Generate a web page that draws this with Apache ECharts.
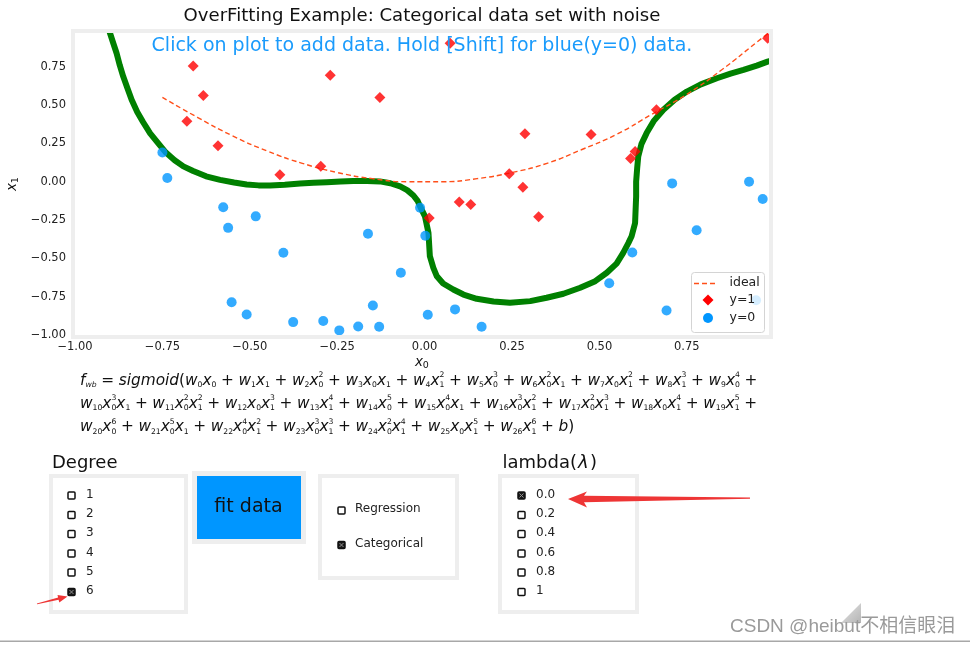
<!DOCTYPE html>
<html><head><meta charset="utf-8">
<script src="https://cdn.jsdelivr.net/npm/echarts@6/dist/echarts.min.js"></script>
<style>html,body{margin:0;padding:0;background:#fff}#c{width:970px;height:645px}</style>
</head><body><div id="c"></div>
<script>
// ---------------- data ----------------
const redX  = [-0.662,-0.633,-0.680,-0.591,-0.414,-0.297,-0.270,-0.128, 0.073, 0.663, 0.287, 0.476, 0.602, 0.589, 0.242, 0.281, 0.099, 0.132, 0.013, 0.326, 0.981];
const redY  = [ 0.755, 0.562, 0.395, 0.234, 0.046, 0.100, 0.695, 0.549, 0.903, 0.469, 0.312, 0.308, 0.197, 0.152, 0.052,-0.037,-0.132,-0.148,-0.237,-0.228, 0.935];
const blueX = [-0.750,-0.736,-0.576,-0.483,-0.562,-0.404,-0.162,-0.068,-0.013,-0.552,-0.509,-0.376,-0.290,-0.244,-0.190,-0.148,-0.130, 0.002, 0.708, 0.928, 0.967, 0.778, 0.594, 0.528, 0.009, 0.087, 0.163, 0.692, 0.948];
const blueY = [ 0.191, 0.024,-0.167,-0.226,-0.301,-0.464,-0.339,-0.594,-0.170,-0.786,-0.866,-0.916,-0.909,-0.970,-0.944,-0.807,-0.946,-0.352,-0.011, 0.000,-0.113,-0.317,-0.462,-0.662,-0.868,-0.833,-0.946,-0.840,-0.773];
const idealX = [-0.75,-0.65,-0.55,-0.45,-0.35,-0.25,-0.15,-0.05, 0.05, 0.15, 0.25, 0.35, 0.45, 0.55, 0.65, 0.75, 0.85, 0.95, 1.00];
const idealY = [ 0.55, 0.42, 0.30, 0.20, 0.12, 0.06, 0.02, 0.00, 0.00, 0.02, 0.06, 0.12, 0.21, 0.31, 0.44, 0.57, 0.73, 0.91, 1.00];
const boundX = [-0.905,-0.900,-0.890,-0.881,-0.872,-0.862,-0.850,-0.838,-0.822,-0.805,-0.785,-0.760,-0.740,-0.715,-0.690,-0.662,-0.625,-0.585,-0.545,-0.509,-0.475,-0.442,-0.400,-0.356,-0.318,-0.280,-0.240,-0.204,-0.165,-0.128,-0.098,-0.070,-0.050,-0.032,-0.020,-0.013, 0.001, 0.011, 0.015, 0.025, 0.035, 0.053, 0.082, 0.111, 0.149, 0.197, 0.244, 0.302, 0.349, 0.397, 0.445, 0.488, 0.521, 0.549, 0.568, 0.583, 0.592, 0.602, 0.605, 0.605, 0.608, 0.611, 0.620, 0.635, 0.655, 0.683, 0.715, 0.750, 0.790, 0.836, 0.875, 0.912, 0.950, 0.981, 1.000];
const boundY = [ 1.000, 0.970, 0.900, 0.838, 0.760, 0.686, 0.610, 0.534, 0.455, 0.388, 0.315, 0.245, 0.190, 0.140, 0.100, 0.070, 0.035, 0.012,-0.005,-0.018,-0.024,-0.025,-0.020,-0.012,-0.007,-0.004, 0.001, 0.004, 0.004, 0.002,-0.010,-0.031,-0.055,-0.090,-0.125,-0.161,-0.226,-0.334,-0.486,-0.562,-0.617,-0.664,-0.703,-0.736,-0.764,-0.781,-0.790,-0.779,-0.757,-0.731,-0.692,-0.649,-0.594,-0.534,-0.464,-0.399,-0.356,-0.269,-0.096, 0.002, 0.090, 0.165, 0.245, 0.317, 0.395, 0.469, 0.535, 0.588, 0.635, 0.675, 0.705, 0.729, 0.757, 0.783, 0.795];
const xTickLabels = ['−1.00','−0.75','−0.50','−0.25','0.00','0.25','0.50','0.75'];
const yTickLabels = ['−1.00','−0.75','−0.50','−0.25','0.00','0.25','0.50','0.75'];
const legendNames = ['ideal','y=1','y=0'];
const degreeOptions = ['1','2','3','4','5','6'];
const degreeChecked = 5;
const modeOptions = ['Regression','Categorical'];
const modeChecked = 1;
const lambdaOptions = ['0.0','0.2','0.4','0.6','0.8','1'];
const lambdaChecked = 0;

const RED = '#ff0000', BLUE = '#0096ff', ORANGE = '#ff4f1a', GREEN = '#008000';
const FF = '"DejaVu Sans", Verdana, sans-serif';
const mctx = document.createElement('canvas').getContext('2d');
function tw(s, size, italic){ mctx.font = (italic?'italic ':'') + size + 'px "DejaVu Sans"'; return mctx.measureText(s).width; }
function txt(s, x, y, size, italic, opts){
  opts = opts || {};
  return {type:'text', z:opts.z || 100, silent:true,
    style:{text:s, x:x, y:y, fontSize:size, fontFamily:FF, fontStyle: italic?'italic':'normal',
      fontWeight: 'normal', fill: opts.fill || '#111',
      align: opts.align || 'left', textAlign: opts.align || 'left',
      verticalAlign:'middle', textVerticalAlign:'middle'}};
}
// simple math layout (sub/superscripts)
function parseMath(str){
  const atoms=[]; let i=0;
  while(i<str.length){
    const c=str[i];
    if(c==='_'||c==='^'){
      const j=str.indexOf('}',i); const g=str.slice(i+2,j);
      const a=atoms[atoms.length-1]; if(c==='_') a.sub=g; else a.sup=g;
      i=j+1; continue;
    }
    atoms.push({b:c}); i++;
  }
  return atoms;
}
const isLetter = c => /[a-z]/i.test(c);
const SCR = 0.5, SPC = 0.30;
function mathLayout(str, x, y, fs, draw){
  const els=[]; const ss=fs*SCR;
  for(const a of parseMath(str)){
    if(a.b===' '){ x += fs*SPC; continue; }
    const it=isLetter(a.b);
    if(draw) els.push(txt(a.b,x,y,fs,it));
    x += tw(a.b,fs,it);
    let w=0;
    if(a.sub){ let xx=x; for(const ch of a.sub){ const i2=isLetter(ch); if(draw) els.push(txt(ch,xx,y+fs*0.28,ss,i2)); xx+=tw(ch,ss,i2);} w=Math.max(w,xx-x); }
    if(a.sup){ let xx=x; for(const ch of a.sup){ const i2=isLetter(ch); if(draw) els.push(txt(ch,xx,y-fs*0.36,ss,i2)); xx+=tw(ch,ss,i2);} w=Math.max(w,xx-x); }
    x += w;
  }
  return {els, x};
}
const L1 = "f_{wb} = sigmoid(w_{0}x_{0} + w_{1}x_{1} + w_{2}x_{0}^{2} + w_{3}x_{0}x_{1} + w_{4}x_{1}^{2} + w_{5}x_{0}^{3} + w_{6}x_{0}^{2}x_{1} + w_{7}x_{0}x_{1}^{2} + w_{8}x_{1}^{3} + w_{9}x_{0}^{4} +";
const L2 = "w_{10}x_{0}^{3}x_{1} + w_{11}x_{0}^{2}x_{1}^{2} + w_{12}x_{0}x_{1}^{3} + w_{13}x_{1}^{4} + w_{14}x_{0}^{5} + w_{15}x_{0}^{4}x_{1} + w_{16}x_{0}^{3}x_{1}^{2} + w_{17}x_{0}^{2}x_{1}^{3} + w_{18}x_{0}x_{1}^{4} + w_{19}x_{1}^{5} +";
const L3 = "w_{20}x_{0}^{6} + w_{21}x_{0}^{5}x_{1} + w_{22}x_{0}^{4}x_{1}^{2} + w_{23}x_{0}^{3}x_{1}^{3} + w_{24}x_{0}^{2}x_{1}^{4} + w_{25}x_{0}x_{1}^{5} + w_{26}x_{1}^{6} + b)";
const w13 = mathLayout(L1, 0, 0, 13, false).x;
const FS = 13 * 678 / w13;

const G = [];
// plot frame
G.push({type:'rect', z:50, silent:true, shape:{x:73,y:31,width:698,height:306}, style:{fill:'none', stroke:'#eeeeee', lineWidth:4}});
G.push(txt('OverFitting Example: Categorical data set with noise', 422, 16, 18.1, false, {align:'center', fill:'#111'}));
G.push(txt('Click on plot to add data. Hold [Shift] for blue(y=0) data.', 422, 46, 19, false, {align:'center', fill:'#1a9bfc'}));
// axis names
G.push(txt('x', 415, 362, 13.5, true));
G.push(txt('0', 422.8, 366, 9.5, false));
G.push({type:'group', x:12, y:191, rotation:Math.PI/2, children:[
  {type:'text', z:100, style:{text:'x', x:0, y:0, fontSize:13.5, fontStyle:'italic', fontFamily:FF, fill:'#111', align:'left', verticalAlign:'middle'}},
  {type:'text', z:100, style:{text:'1', x:7.8, y:4, fontSize:9.5, fontFamily:FF, fill:'#111', align:'left', verticalAlign:'middle'}}
]});
// legend (drawn box over the plot)
(function(){
  const lz = 60;
  G.push({type:'rect', z:lz, silent:true, shape:{x:691.5,y:272.5,width:73,height:60,r:3}, style:{fill:'rgba(255,255,255,0.8)', stroke:'#d4d4d4', lineWidth:1}});
  G.push({type:'line', z:lz+1, silent:true, shape:{x1:694,y1:283.5,x2:718,y2:283.5}, style:{stroke:ORANGE, lineWidth:1.4, lineDash:[5,3]}});
  G.push({type:'polygon', z:lz+1, silent:true, shape:{points:[[708,294.5],[713.5,300],[708,305.5],[702.5,300]]}, style:{fill:RED}});
  G.push({type:'circle', z:lz+1, silent:true, shape:{cx:708,cy:318,r:5}, style:{fill:BLUE}});
  [283,300,318].forEach((y,i)=>G.push(txt(legendNames[i], 729.5, y, 12.5, false, {fill:'#222', z:lz+1})));
})();
// formula
[[L1,381],[L2,404],[L3,427.5]].forEach(([s,y]) => { mathLayout(s, 80, y, FS, true).els.forEach(e => G.push(e)); });

// widgets
function box(x1,y1,x2,y2){ return {type:'rect', z:90, silent:true, shape:{x:x1+2,y:y1+2,width:x2-x1-4,height:y2-y1-4}, style:{fill:'#fff', stroke:'#eeeeee', lineWidth:4}}; }
function checkbox(cx,cy,checked){
  const r = {type:'rect', z:100, silent:true, shape:{x:cx-3.5,y:cy-3.5,width:7,height:7,r:1}, style:{fill: checked?'#1a1a1a':'#fff', stroke:'#111', lineWidth:1.5}};
  if(!checked) return [r];
  return [r,
    {type:'line', z:101, silent:true, shape:{x1:cx-2,y1:cy-2,x2:cx+2,y2:cy+2}, style:{stroke:'#9a9a9a', lineWidth:0.9}},
    {type:'line', z:101, silent:true, shape:{x1:cx+2,y1:cy-2,x2:cx-2,y2:cy+2}, style:{stroke:'#9a9a9a', lineWidth:0.9}}];
}
G.push(txt('Degree', 52, 463, 18, false, {fill:'#111'}));
G.push(box(49,474,188,614));
const rowY = [495.5, 515, 534, 553.5, 572.5, 592];
degreeOptions.forEach((s,i)=>{ checkbox(71.5,rowY[i],i===degreeChecked).forEach(e=>G.push(e)); G.push(txt(s, 86, rowY[i]-1, 12, false, {fill:'#222'})); });
// button
G.push({type:'rect', z:90, silent:true, shape:{x:194.5,y:473.5,width:109,height:68}, style:{fill:'#0096ff', stroke:'#eeeeee', lineWidth:5}});
G.push(txt('fit data', 248.5, 507, 19, false, {align:'center', fill:'#111'}));
// mode box
G.push(box(318,474,459,580));
const modeY = [510.5, 545];
modeOptions.forEach((s,i)=>{ checkbox(341.5,modeY[i],i===modeChecked).forEach(e=>G.push(e)); G.push(txt(s, 355, modeY[i]-1.5, 12, false, {fill:'#222'})); });
// lambda
(function(){
  let x = 502.5;
  G.push(txt('lambda(', x, 463, 18, false, {fill:'#111'})); x += tw('lambda(',18,false) + 1;
  G.push(txt('λ', x, 463, 18, true, {fill:'#111'})); x += tw('λ',18,true) + 1.5;
  G.push(txt(')', x, 463, 18, false, {fill:'#111'}));
})();
G.push(box(498,474,639,614));
lambdaOptions.forEach((s,i)=>{ checkbox(521.5,rowY[i],i===lambdaChecked).forEach(e=>G.push(e)); G.push(txt(s, 536, rowY[i]-1, 12, false, {fill:'#222'})); });
// annotation arrows
G.push({type:'polygon', z:120, silent:true, shape:{points:[[568,499],[587,491.5],[584,495.8],[750,497.6],[750,498.8],[584,502.2],[587,507.5]]}, style:{fill:'#ee3535'}});
G.push({type:'polygon', z:120, silent:true, shape:{points:[[67.5,596.5],[57.5,595],[58.1,597.6],[36.9,603.4],[37.1,604.3],[58.6,599.8],[59.3,602.4]]}, style:{fill:'#ee3535'}});
// page decorations
G.push({type:'polygon', z:95, silent:true, shape:{points:[[841,623],[861,603],[861,623]]}, style:{fill:new echarts.graphic.LinearGradient(0,0,1,1,[{offset:0,color:'#e6e6e6'},{offset:1,color:'#b4b4b4'}])}});
G.push({type:'text', z:110, silent:true, style:{text:'CSDN @heibut不相信眼泪', x:730, y:627, fontSize:19, fontFamily:'"Liberation Sans", Arial, "Noto Sans CJK SC", sans-serif', fill:'#9a9a9a', align:'left', verticalAlign:'middle', textAlign:'left', textVerticalAlign:'middle'}});
G.push({type:'rect', z:95, silent:true, shape:{x:0,y:640.5,width:970,height:1.5}, style:{fill:'#a8a8a8'}});

const fmt = arr => v => { const s=(v<0?'−':'')+Math.abs(v).toFixed(2); return arr.indexOf(s)>=0 ? s : ''; };
const zip = (a,b) => a.map((v,i)=>[v,b[i]]);

const chart = echarts.init(document.getElementById('c'), null, {renderer:'canvas'});
chart.setOption({
  animation:false,
  backgroundColor:'#fff',
  grid:{left:75, top:33, width:694, height:302, show:false},
  xAxis:{type:'value', min:-1, max:0.985, interval:0.25,
    axisLine:{show:false}, axisTick:{show:false}, splitLine:{show:false},
    axisLabel:{showMaxLabel:false, margin:6, fontSize:11.5, fontFamily:FF, color:'#222', formatter:fmt(xTickLabels)}},
  yAxis:{type:'value', min:-1, max:0.97, interval:0.25,
    axisLine:{show:false}, axisTick:{show:false}, splitLine:{show:false},
    axisLabel:{showMaxLabel:false, margin:9, fontSize:11.5, fontFamily:FF, color:'#222', formatter:fmt(yTickLabels)}},
  graphic:{elements:G},
  series:[
    {name:'boundary', type:'line', data:zip(boundX,boundY), symbol:'none', smooth:false, clip:true, z:3,
     lineStyle:{color:GREEN, width:6, join:'round', cap:'round'}},
    {name:'ideal', type:'line', data:zip(idealX,idealY), symbol:'none', smooth:true, clip:true, z:4,
     itemStyle:{color:ORANGE}, lineStyle:{color:ORANGE, width:1.4, type:[5,3]}},
    {name:'y=1', type:'scatter', data:zip(redX,redY), symbol:'diamond', symbolSize:11, clip:true, z:5,
     itemStyle:{color:RED}},
    {name:'y=0', type:'scatter', data:zip(blueX,blueY), symbol:'circle', symbolSize:10, clip:true, z:5,
     itemStyle:{color:BLUE}}
  ]
});
</script></body></html>
